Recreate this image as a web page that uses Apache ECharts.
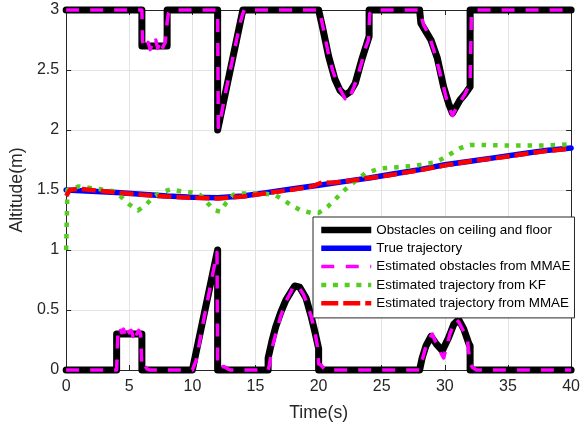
<!DOCTYPE html>
<html>
<head>
<meta charset="utf-8">
<script src="https://cdn.jsdelivr.net/npm/echarts@6/dist/echarts.min.js"></script>
<style>
  html, body { margin: 0; padding: 0; background: #fff; }
  #chart { width: 583px; height: 429px; }
</style>
</head>
<body>
<div id="chart"></div>
<script>
// Obstacle profile on the ceiling (black)
const ceilT = [0, 6, 6, 8, 8, 12, 12, 14, 20, 20.3, 20.8, 21.3, 21.7, 22.1, 22.5, 22.9, 23.4, 24, 24, 28, 28.1, 28.5, 28.9, 29.4, 29.9, 30.3, 30.6, 31.2, 31.6, 32, 32, 40];
const ceilV = [3, 3, 2.7, 2.7, 3, 3, 2, 3, 3, 2.86, 2.61, 2.42, 2.33, 2.29, 2.32, 2.39, 2.58, 2.78, 3, 3, 2.89, 2.82, 2.75, 2.6, 2.36, 2.22, 2.14, 2.25, 2.3, 2.36, 3, 3];

// Obstacle profile on the floor (black)
const floorT = [0, 4, 4, 6, 6, 10, 12, 12, 16, 16, 16.3, 16.6, 17, 17.4, 17.8, 18.1, 18.5, 19, 19.4, 19.7, 20, 20, 28, 28.2, 28.5, 28.9, 29.3, 29.8, 30.3, 30.7, 31.1, 31.5, 31.9, 32, 32, 40];
const floorV = [0, 0, 0.3, 0.3, 0, 0, 1, 0, 0, 0.1, 0.24, 0.36, 0.48, 0.58, 0.65, 0.7, 0.69, 0.6, 0.45, 0.32, 0.18, 0, 0, 0.1, 0.2, 0.28, 0.22, 0.16, 0.27, 0.38, 0.42, 0.34, 0.22, 0.2, 0, 0];

// MMAE estimate of the ceiling obstacles (magenta)
const estCeilT = [0, 6.0, 6.05, 6.2, 6.35, 6.5, 6.65, 6.8, 6.95, 7.1, 7.25, 7.4, 7.55, 7.7, 7.85, 8.0, 8.1, 8.3, 12.0, 12.05, 12.3, 12.6, 12.9, 13.2, 13.5, 13.8, 14.0, 14.1, 20.0, 20.2, 20.5, 20.8, 21.1, 21.4, 21.7, 21.9, 22.1, 22.3, 22.5, 22.8, 23.1, 23.4, 23.7, 23.95, 24.05, 24.3, 28.0, 28.1, 28.3, 28.5, 28.7, 28.9, 29.2, 29.5, 29.8, 30.1, 30.4, 30.6, 30.8, 31.0, 31.3, 31.6, 31.9, 32.0, 32.1, 32.4, 40];
const estCeilV = [3, 3, 2.74, 2.7, 2.68, 2.73, 2.67, 2.71, 2.69, 2.75, 2.68, 2.72, 2.66, 2.7, 2.73, 2.9, 2.97, 3, 3, 2.02, 2.13, 2.3, 2.45, 2.6, 2.75, 2.9, 2.97, 3, 3, 2.93, 2.78, 2.62, 2.5, 2.41, 2.34, 2.3, 2.26, 2.3, 2.28, 2.36, 2.45, 2.56, 2.68, 2.75, 2.97, 3, 3, 2.96, 2.88, 2.84, 2.8, 2.74, 2.64, 2.52, 2.4, 2.27, 2.17, 2.12, 2.16, 2.2, 2.25, 2.3, 2.37, 2.4, 2.97, 3, 3];

// MMAE estimate of the floor obstacles (magenta)
const estFloorT = [0, 4.0, 4.1, 4.25, 4.4, 4.55, 4.7, 4.85, 5.0, 5.15, 5.3, 5.45, 5.6, 5.75, 5.9, 6.0, 6.2, 6.4, 6.6, 10, 10.3, 10.6, 10.9, 11.2, 11.5, 11.8, 11.95, 12.0, 12.2, 12.5, 12.8, 13, 16, 16.1, 16.3, 16.6, 17.0, 17.4, 17.8, 18.0, 18.2, 18.5, 18.8, 19.1, 19.4, 19.7, 19.9, 20.0, 20.2, 20.5, 28, 28.2, 28.5, 28.8, 29.0, 29.2, 29.5, 29.7, 29.9, 30.1, 30.4, 30.7, 30.9, 31.1, 31.3, 31.6, 31.8, 32.0, 32.2, 32.5, 40];
const estFloorV = [0, 0, 0.3, 0.36, 0.31, 0.34, 0.29, 0.35, 0.31, 0.33, 0.28, 0.34, 0.3, 0.33, 0.3, 0.02, 0.04, 0.01, 0, 0, 0.08, 0.25, 0.42, 0.58, 0.74, 0.9, 0.98, 0.02, 0.02, 0.03, 0.01, 0, 0, 0.04, 0.18, 0.3, 0.45, 0.57, 0.65, 0.7, 0.68, 0.68, 0.63, 0.55, 0.45, 0.32, 0.2, 0.05, 0.04, 0, 0, 0.08, 0.2, 0.27, 0.3, 0.25, 0.2, 0.14, 0.1, 0.18, 0.3, 0.38, 0.42, 0.4, 0.36, 0.3, 0.24, 0.05, 0.02, 0, 0];

// True altitude trajectory (blue)
const trueT = [0, 2, 4, 6, 8, 10, 12, 14, 16, 18, 20, 22, 24, 26, 28, 30, 32, 34, 36, 38, 40];
const trueV = [1.5, 1.49, 1.48, 1.465, 1.45, 1.44, 1.435, 1.45, 1.48, 1.51, 1.54, 1.57, 1.6, 1.635, 1.67, 1.71, 1.74, 1.77, 1.8, 1.83, 1.85];

// Kalman filter estimate (green)
const kfT = [0, 0.1, 1, 2.4, 3.8, 4.5, 5, 5.7, 6.3, 6.9, 7.5, 8.3, 9.1, 9.9, 10.6, 11.2, 11.8, 12.2, 12.65, 13.25, 13.9, 15.7, 16.5, 17.2, 17.8, 18.6, 19.4, 20, 20.7, 21.3, 21.85, 22.5, 23.7, 24.9, 26.2, 27.5, 29.2, 29.8, 30.6, 31.25, 32, 32.8, 35.3, 37.6, 40];
const kfV = [1.0, 1.5, 1.53, 1.51, 1.49, 1.43, 1.38, 1.33, 1.375, 1.44, 1.48, 1.505, 1.49, 1.48, 1.46, 1.39, 1.33, 1.32, 1.39, 1.46, 1.47, 1.47, 1.46, 1.42, 1.375, 1.33, 1.31, 1.31, 1.36, 1.42, 1.48, 1.54, 1.64, 1.68, 1.69, 1.7, 1.73, 1.76, 1.81, 1.85, 1.875, 1.875, 1.87, 1.87, 1.88];

// MMAE trajectory estimate (red)
const mmaeT = [0, 0.3, 1, 2, 3, 4, 6, 8, 10, 12, 14, 16, 18, 19.5, 20.3, 21, 22, 24, 26, 28, 30, 32, 34, 36, 38, 40];
const mmaeV = [1.45, 1.5, 1.51, 1.5, 1.49, 1.48, 1.46, 1.445, 1.435, 1.43, 1.445, 1.475, 1.505, 1.53, 1.565, 1.56, 1.57, 1.6, 1.63, 1.665, 1.705, 1.74, 1.765, 1.795, 1.825, 1.845];

// Axis ticks
const xTicks = { min: 0, max: 40, step: 5 };
const yTicks = { min: 0, max: 3, step: 0.5 };

const NAMES = {
  obs: 'Obstacles on ceiling and floor',
  truth: 'True trajectory',
  estObs: 'Estimated obstacles from MMAE',
  kf: 'Estimated trajectory from KF',
  mmae: 'Estimated trajectory from MMAE'
};

const zip = (t, v) => t.map((x, i) => [x, v[i]]);

const FONT = '"Liberation Sans", Arial, Helvetica, sans-serif';
const AXIS_COLOR = '#262626';
const GRID_COLOR = '#e3e3e3';

const COLORS = {
  obs: '#000000',
  truth: '#0000ff',
  estObs: '#ff00ff',
  kf: '#55cc22',
  mmae: '#ff0000'
};

function lineSeries(name, data, style, z) {
  return {
    type: 'line',
    name: name,
    data: data,
    symbol: 'none',
    clip: false,
    z: z,
    lineStyle: Object.assign({ cap: 'round', join: 'round' }, style),
    itemStyle: { color: style.color }
  };
}

const obsStyle = { color: COLORS.obs, width: 7 };
const truthStyle = { color: COLORS.truth, width: 5.5 };
const estObsStyle = { color: COLORS.estObs, width: 3.5, type: [13, 11], cap: 'butt' };
const kfStyle = { color: COLORS.kf, width: 4.5, type: [4.5, 7], cap: 'butt' };
const mmaeStyle = { color: COLORS.mmae, width: 4.5, type: [14, 5], cap: 'butt' };

// legend entries show only the line sample, no marker
const hiddenMarker = { color: 'rgba(0,0,0,0)', borderWidth: 0, opacity: 0 };

const chart = echarts.init(document.getElementById('chart'), null, { renderer: 'canvas' });

function frameAxis(extra) {
  return Object.assign({
    type: 'value',
    axisLine: { show: true, onZero: false, lineStyle: { color: AXIS_COLOR, width: 1 } },
    axisTick: { show: true, inside: true, length: 5, lineStyle: { color: AXIS_COLOR } },
    splitLine: { show: false }
  }, extra);
}

chart.setOption({
  animation: false,
  backgroundColor: '#ffffff',
  grid: { left: 64, right: 8, top: 10, bottom: 59, containLabel: false },
  xAxis: [
    frameAxis({
      position: 'bottom',
      min: xTicks.min, max: xTicks.max, interval: xTicks.step,
      name: 'Time(s)',
      nameLocation: 'middle',
      nameGap: 34,
      nameTextStyle: { fontFamily: FONT, fontSize: 17.6, color: AXIS_COLOR },
      axisLabel: { fontFamily: FONT, fontSize: 16, color: AXIS_COLOR, margin: 9 },
      splitLine: { show: true, lineStyle: { color: GRID_COLOR, width: 1 } }
    }),
    frameAxis({
      position: 'top',
      min: xTicks.min, max: xTicks.max, interval: xTicks.step,
      axisLabel: { show: false }
    })
  ],
  yAxis: [
    frameAxis({
      position: 'left',
      min: yTicks.min, max: yTicks.max, interval: yTicks.step,
      name: 'Altitude(m)',
      nameLocation: 'middle',
      nameGap: 35,
      nameTextStyle: { fontFamily: FONT, fontSize: 17.6, color: AXIS_COLOR },
      axisLabel: { fontFamily: FONT, fontSize: 16, color: AXIS_COLOR, margin: 7 },
      splitLine: { show: true, lineStyle: { color: GRID_COLOR, width: 1 } }
    }),
    frameAxis({
      position: 'right',
      min: yTicks.min, max: yTicks.max, interval: yTicks.step,
      axisLabel: { show: false }
    })
  ],
  legend: {
    orient: 'vertical',
    left: 313,
    top: 217,
    padding: [6, 4, 7.7, 5],
    itemWidth: 50,
    itemHeight: 14,
    itemGap: 4.3,
    backgroundColor: '#ffffff',
    borderColor: AXIS_COLOR,
    borderWidth: 1,
    borderRadius: 0,
    textStyle: { fontFamily: FONT, fontSize: 13.4, color: '#000000', lineHeight: 14 },
    data: [
      { name: NAMES.obs, itemStyle: hiddenMarker, lineStyle: { width: 6.5, color: COLORS.obs, type: 'solid', cap: 'butt' } },
      { name: NAMES.truth, itemStyle: hiddenMarker, lineStyle: { width: 5.5, color: COLORS.truth, type: 'solid', cap: 'butt' } },
      { name: NAMES.estObs, itemStyle: hiddenMarker, lineStyle: { width: 3.5, color: COLORS.estObs, type: [13, 11.5], cap: 'butt' } },
      { name: NAMES.kf, itemStyle: hiddenMarker, lineStyle: { width: 4.5, color: COLORS.kf, type: [5, 6.7], cap: 'butt' } },
      { name: NAMES.mmae, itemStyle: hiddenMarker, lineStyle: { width: 4.5, color: COLORS.mmae, type: [17, 5], cap: 'butt' } }
    ]
  },
  series: [
    lineSeries(NAMES.obs, zip(ceilT, ceilV), obsStyle, 2),
    lineSeries(NAMES.obs, zip(floorT, floorV), obsStyle, 2),
    lineSeries(NAMES.truth, zip(trueT, trueV), truthStyle, 3),
    lineSeries(NAMES.estObs, zip(estCeilT, estCeilV), estObsStyle, 4),
    lineSeries(NAMES.estObs, zip(estFloorT, estFloorV), estObsStyle, 4),
    lineSeries(NAMES.kf, zip(kfT, kfV), kfStyle, 5),
    lineSeries(NAMES.mmae, zip(mmaeT, mmaeV), mmaeStyle, 6)
  ]
});
</script>
</body>
</html>
